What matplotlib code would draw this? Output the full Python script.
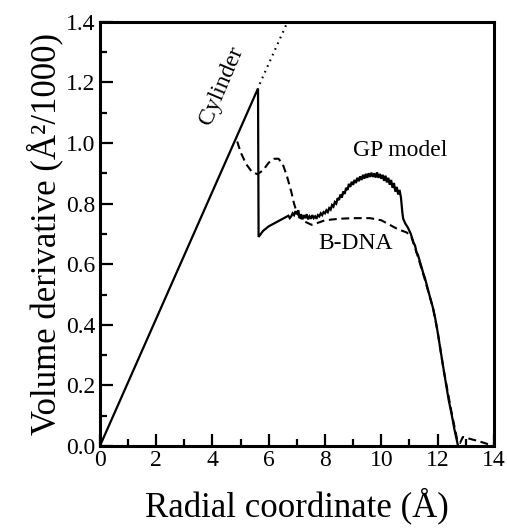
import matplotlib
matplotlib.use("Agg")
from matplotlib import pyplot as plt
from matplotlib.ticker import MultipleLocator

# GP model (solid): cylinder rise, drop at ~5.6 A, noisy bump, fall to zero
gp_x = [0, 5.62, 5.64, 5.8, 6.0, 6.2, 6.4, 6.5, 6.6, 6.7, 6.75,
        6.8, 6.85, 6.9, 6.95, 7.0, 7.05, 7.1, 7.15, 7.2, 7.25, 7.3, 7.35, 7.4,
        7.45, 7.5, 7.55, 7.6, 7.65, 7.7, 7.75, 7.8, 7.85, 7.9, 7.95, 8.0, 8.05,
        8.1, 8.15, 8.2, 8.25, 8.3, 8.35, 8.4, 8.45, 8.5, 8.55, 8.6, 8.65, 8.7,
        8.75, 8.8, 8.85, 8.9, 8.95, 9.0, 9.05, 9.1, 9.15, 9.2, 9.25, 9.3, 9.35,
        9.4, 9.45, 9.5, 9.55, 9.6, 9.65, 9.7, 9.75, 9.8, 9.85, 9.9, 9.95, 10.0,
        10.05, 10.1, 10.15, 10.2, 10.25, 10.3, 10.35, 10.4, 10.45, 10.5, 10.55,
        10.6, 10.65, 10.7, 10.75, 10.78, 10.85, 10.95, 11.05, 11.15, 11.2, 11.25,
        11.3, 11.4, 11.5, 11.55, 11.65, 11.75, 11.84, 11.92, 12.0, 12.1, 12.2,
        12.3, 12.4, 12.5, 12.6, 12.73]
gp_y = [0, 1.18, 0.69, 0.71, 0.725, 0.735, 0.745, 0.75, 0.755, 0.76, 0.752,
        0.758, 0.768, 0.762, 0.775, 0.765, 0.778, 0.752, 0.765, 0.748, 0.762,
        0.752, 0.765, 0.748, 0.758, 0.75, 0.762, 0.752, 0.758, 0.75, 0.762,
        0.758, 0.768, 0.762, 0.772, 0.768, 0.778, 0.772, 0.785, 0.78, 0.795,
        0.79, 0.805, 0.80, 0.818, 0.812, 0.83, 0.82, 0.84, 0.832, 0.852, 0.845,
        0.865, 0.855, 0.872, 0.862, 0.878, 0.868, 0.885, 0.874, 0.89, 0.878,
        0.895, 0.882, 0.898, 0.885, 0.90, 0.888, 0.902, 0.888, 0.90, 0.886,
        0.903, 0.885, 0.898, 0.882, 0.895, 0.875, 0.892, 0.87, 0.885, 0.862,
        0.878, 0.852, 0.868, 0.84, 0.855, 0.83, 0.845, 0.82, 0.77, 0.75, 0.735,
        0.72, 0.70, 0.67, 0.662, 0.64, 0.632, 0.60, 0.568, 0.555, 0.52, 0.485,
        0.455, 0.42, 0.378, 0.32, 0.262, 0.205, 0.15, 0.105, 0.055, 0.0]

# B-DNA (dashed)
dna_x = [4.88, 5.0, 5.2, 5.4, 5.6, 5.8, 6.0, 6.2, 6.35, 6.5, 6.65, 6.8, 6.9, 7.0,
         7.1, 7.3, 7.52, 7.7, 8.0, 8.5, 9.0, 9.6, 10.0, 10.3, 10.6, 10.9, 11.07,
         11.2, 11.5, 11.84, 12.0, 12.2, 12.5, 12.7, 12.8, 12.9, 13.1, 13.5, 14.0]
dna_y = [1.005, 0.97, 0.93, 0.905, 0.897, 0.91, 0.935, 0.948, 0.948, 0.93, 0.89,
         0.84, 0.80, 0.77, 0.755, 0.74, 0.73, 0.735, 0.745, 0.75, 0.752, 0.752,
         0.745, 0.73, 0.715, 0.705, 0.69, 0.655, 0.565, 0.455, 0.38, 0.26, 0.11,
         0.02, 0.01, 0.03, 0.025, 0.015, 0.0]

# cylinder continuation (dotted)
cyl_x = [5.68, 6.67]
cyl_y = [1.195, 1.40]

serif = "Liberation Serif"


def main():
    fig = plt.figure(figsize=(5.07, 5.31), dpi=100)
    ax = fig.add_axes([0.197, 0.160, 0.777, 0.799])

    ax.plot(gp_x, gp_y, color="black", lw=1.6, solid_joinstyle="miter")
    ax.plot(dna_x, dna_y, color="black", lw=1.5, dashes=(3.8, 2.2))
    ax.plot(cyl_x, cyl_y, color="black", lw=1.5, dashes=(0.8, 2.2))

    ax.set_xlim(0, 14)
    ax.set_ylim(0, 1.4)
    ax.xaxis.set_major_locator(MultipleLocator(2))
    ax.xaxis.set_minor_locator(MultipleLocator(1))
    ax.yaxis.set_major_locator(MultipleLocator(0.2))
    ax.yaxis.set_minor_locator(MultipleLocator(0.1))
    ax.yaxis.set_major_formatter(plt.FuncFormatter(lambda v, p: "%.1f" % v))
    ax.tick_params(which="both", direction="in", top=False, right=False,
                   width=1.6, labelsize=17, pad=3)
    ax.tick_params(which="major", length=9)
    ax.tick_params(which="minor", length=5)
    for lab in ax.get_xticklabels() + ax.get_yticklabels():
        lab.set_family(serif)
    for s in ax.spines.values():
        s.set_linewidth(2.2)

    ax.set_xlabel("Radial coordinate (Å)", family=serif, fontsize=25, labelpad=12)
    ax.set_ylabel("Volume derivative (Å²/1000)", family=serif, fontsize=25,
                  labelpad=2)

    ax.text(4.33, 1.19, "Cylinder", family=serif, fontsize=17, rotation=67,
            ha="center", va="center")
    ax.text(10.66, 0.975, "GP model", family=serif, fontsize=17,
            ha="center", va="center")
    ax.text(9.1, 0.667, "B-DNA", family=serif, fontsize=17,
            ha="center", va="center")

    fig.savefig("out.png", dpi=100)


if __name__ == "__main__":
    main()
